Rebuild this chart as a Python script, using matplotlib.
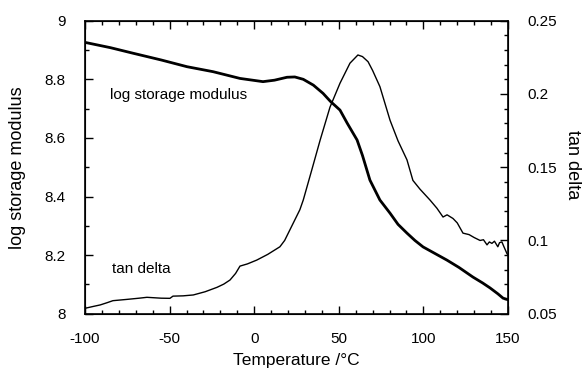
import numpy as np
import matplotlib
matplotlib.use('Agg')
import matplotlib.pyplot as plt
from matplotlib.ticker import MultipleLocator

# log storage modulus (thick curve, left axis)
temp_mod = [-100, -85, -71.6, -55, -39.7, -24.3, -8.4, 5.2, 12, 19.4, 24, 29,
            35, 40.7, 45, 50.7, 55, 60.8, 64, 68.4, 74.3, 80.3, 85, 90.3, 95,
            99.8, 107, 113.9, 121, 129.3, 135, 139.4, 144, 147.1, 150]
log_mod = [8.926, 8.908, 8.889, 8.866, 8.843, 8.826, 8.803, 8.792, 8.797,
           8.807, 8.808, 8.800, 8.780, 8.752, 8.725, 8.695, 8.650, 8.593,
           8.540, 8.456, 8.388, 8.343, 8.305, 8.275, 8.250, 8.228, 8.205,
           8.183, 8.158, 8.125, 8.105, 8.088, 8.068, 8.053, 8.048]

# tan delta (thin curve, right axis)
temp_tan = [-100, -95, -91, -87, -83.5, -75, -68, -63.4, -55, -49.8, -48, -42,
            -36, -29, -22, -18, -14.3, -11, -8.4, -4, 1.5, 8, 15.2, 18, 21,
            24, 27, 29, 34, 39, 44.8, 50.7, 56.6, 61.3, 64, 67.3, 70, 74.3,
            80.3, 85, 90.3, 93.8, 98, 103.9, 108, 111.6, 114, 117.5, 120,
            123.4, 127, 130, 133.5, 135.5, 137.6, 139, 140.5, 142, 144, 145,
            146.4, 147.5, 149.4, 150]
tan_delta = [0.0537, 0.0550, 0.0560, 0.0575, 0.0589, 0.0598, 0.0606, 0.0612,
             0.0606, 0.0605, 0.0620, 0.0622, 0.0628, 0.0650, 0.0680, 0.0702,
             0.0730, 0.0775, 0.0825, 0.0840, 0.0866, 0.0905, 0.0957, 0.1000,
             0.1070, 0.1140, 0.1210, 0.1276, 0.1480, 0.1686, 0.1910, 0.2073,
             0.2210, 0.2266, 0.2255, 0.2220, 0.2160, 0.2050, 0.1820, 0.1680,
             0.1550, 0.1410, 0.1350, 0.1276, 0.1220, 0.1160, 0.1175, 0.1150,
             0.1120, 0.1050, 0.1040, 0.1020, 0.1000, 0.1005, 0.0970, 0.0990,
             0.0980, 0.0995, 0.0957, 0.0985, 0.0990, 0.0960, 0.0910, 0.0900]

left_ticks = [8, 8.2, 8.4, 8.6, 8.8, 9]
left_labels = ['8', '8.2', '8.4', '8.6', '8.8', '9']
right_ticks = [0.05, 0.1, 0.15, 0.2, 0.25]
right_labels = ['0.05', '0.1', '0.15', '0.2', '0.25']

plt.rcParams['font.family'] = ['Liberation Sans', 'DejaVu Sans']
plt.rcParams['font.size'] = 11
plt.rcParams['axes.unicode_minus'] = False

fig = plt.figure(figsize=(5.87, 3.71), dpi=100)
ax = fig.add_axes([0.1448, 0.1544, 0.7206, 0.7898])
ax2 = ax.twinx()

ax.plot(temp_mod, log_mod, color='black', lw=2.0)
ax2.plot(temp_tan, tan_delta, color='black', lw=1.0)

ax.set_xlim(-100, 150)
ax.set_ylim(8, 9)
ax2.set_ylim(0.05, 0.25)

ax.xaxis.set_major_locator(MultipleLocator(50))
ax.xaxis.set_minor_locator(MultipleLocator(10))
ax.set_yticks(left_ticks)
ax.set_yticklabels(left_labels)
ax.yaxis.set_minor_locator(MultipleLocator(0.1))
ax2.set_yticks(right_ticks)
ax2.set_yticklabels(right_labels)
ax2.yaxis.set_minor_locator(MultipleLocator(0.01))

ax.tick_params(axis='x', which='both', direction='in', top=True, pad=13)
ax.tick_params(axis='y', which='both', direction='in', pad=14)
ax2.tick_params(axis='y', which='both', direction='in', pad=14)
for a in (ax, ax2):
    a.tick_params(which='major', length=6, width=1)
    a.tick_params(which='minor', length=3, width=1)

for sp in ax.spines.values():
    sp.set_linewidth(1.2)

ax.set_xlabel('Temperature /\u00b0C', va='center', fontsize=12.5)
ax.set_ylabel('log storage modulus', va='center', fontsize=13)
ax2.set_ylabel('tan delta', rotation=270, va='center', fontsize=13)
ax.xaxis.set_label_coords(0.5, -0.16)
ax.yaxis.set_label_coords(-0.159, 0.5)
ax2.yaxis.set_label_coords(1.153, 0.51)

ax.text(-85, 8.745, 'log storage modulus', va='center', ha='left')
ax.text(-84, 8.153, 'tan delta', va='center', ha='left')

fig.savefig('out.png', dpi=100)
